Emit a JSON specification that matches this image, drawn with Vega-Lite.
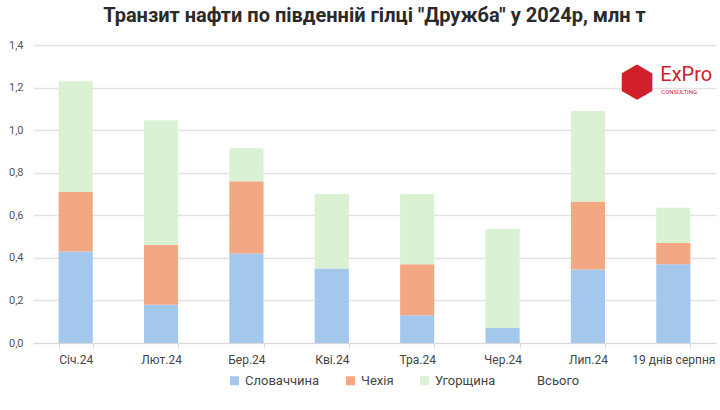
{
  "$schema": "https://vega.github.io/schema/vega-lite/v6.json",
  "width": 720,
  "height": 410,
  "autosize": {"type": "fit", "contains": "padding"},
  "padding": {"left": 8, "right": 4, "top": 6, "bottom": 45},
  "background": "white",
  "config": {
    "font": "Roboto",
    "view": {"stroke": null},
    "locale": {"number": {"decimal": ",", "thousands": " ", "grouping": [3], "currency": ["", ""]}}
  },
  "title": {
    "text": "Транзит нафти по південній гілці \"Дружба\" у 2024р, млн т",
    "fontSize": 20,
    "fontWeight": "bold",
    "color": "#2a2a2a",
    "font": "Roboto",
    "anchor": "middle",
    "offset": 13
  },
  "data": {
    "values": [
      {"month": "Січ.24", "country": "Словаччина", "value": 0.43, "o": 1},
      {"month": "Січ.24", "country": "Чехія", "value": 0.28, "o": 2},
      {"month": "Січ.24", "country": "Угорщина", "value": 0.52, "o": 3},
      {"month": "Лют.24", "country": "Словаччина", "value": 0.18, "o": 1},
      {"month": "Лют.24", "country": "Чехія", "value": 0.28, "o": 2},
      {"month": "Лют.24", "country": "Угорщина", "value": 0.585, "o": 3},
      {"month": "Бер.24", "country": "Словаччина", "value": 0.42, "o": 1},
      {"month": "Бер.24", "country": "Чехія", "value": 0.34, "o": 2},
      {"month": "Бер.24", "country": "Угорщина", "value": 0.155, "o": 3},
      {"month": "Кві.24", "country": "Словаччина", "value": 0.35, "o": 1},
      {"month": "Кві.24", "country": "Чехія", "value": 0.0, "o": 2},
      {"month": "Кві.24", "country": "Угорщина", "value": 0.35, "o": 3},
      {"month": "Тра.24", "country": "Словаччина", "value": 0.13, "o": 1},
      {"month": "Тра.24", "country": "Чехія", "value": 0.24, "o": 2},
      {"month": "Тра.24", "country": "Угорщина", "value": 0.33, "o": 3},
      {"month": "Чер.24", "country": "Словаччина", "value": 0.07, "o": 1},
      {"month": "Чер.24", "country": "Чехія", "value": 0.0, "o": 2},
      {"month": "Чер.24", "country": "Угорщина", "value": 0.465, "o": 3},
      {"month": "Лип.24", "country": "Словаччина", "value": 0.345, "o": 1},
      {"month": "Лип.24", "country": "Чехія", "value": 0.32, "o": 2},
      {"month": "Лип.24", "country": "Угорщина", "value": 0.425, "o": 3},
      {"month": "19 днів серпня", "country": "Словаччина", "value": 0.37, "o": 1},
      {"month": "19 днів серпня", "country": "Чехія", "value": 0.10, "o": 2},
      {"month": "19 днів серпня", "country": "Угорщина", "value": 0.165, "o": 3}
    ]
  },
  "layer": [
    {
      "mark": {"type": "bar"},
      "encoding": {
        "x": {
          "field": "month",
          "type": "nominal",
          "sort": null,
          "title": null,
          "scale": {"paddingInner": 0.6, "paddingOuter": 0.3},
          "axis": {
            "labelAngle": 0,
            "labelFontSize": 12,
            "labelColor": "#444444",
            "labelPadding": 6,
            "domainColor": "#d9d9d9",
            "tickColor": "#d9d9d9",
            "tickBand": "extent",
            "tickSize": 5,
            "grid": false
          }
        },
        "y": {
          "field": "value",
          "type": "quantitative",
          "stack": "zero",
          "title": null,
          "scale": {"domain": [0, 1.4]},
          "axis": {
            "values": [0, 0.2, 0.4, 0.6, 0.8, 1.0, 1.2, 1.4],
            "format": ".1f",
            "labelFontSize": 11,
            "labelColor": "#555555",
            "domain": false,
            "ticks": false,
            "labelPadding": 10,
            "gridColor": "#e3e3e3",
            "gridWidth": 1.5
          }
        },
        "color": {
          "field": "country",
          "type": "nominal",
          "title": null,
          "scale": {
            "domain": ["Словаччина", "Чехія", "Угорщина", "Всього"],
            "range": ["#a4c8ec", "#f2a883", "#daf1d3", "transparent"]
          },
          "legend": {
            "orient": "none",
            "legendX": 195,
            "legendY": 329,
            "direction": "horizontal",
            "symbolType": "square",
            "symbolSize": 80,
            "symbolStrokeWidth": 0,
            "labelFontSize": 13,
            "labelColor": "#444444",
            "columnPadding": 24
          }
        },
        "order": {"field": "o", "type": "quantitative"}
      }
    },
    {
      "data": {"values": [{"month": "19 днів серпня", "value": 1.26, "label": "ExPro"}]},
      "mark": {"type": "text", "color": "#d0202a", "fontSize": 20, "font": "Roboto", "fontWeight": "normal", "align": "left", "dx": -13},
      "encoding": {
        "x": {"field": "month", "type": "nominal", "sort": null},
        "y": {"field": "value", "type": "quantitative"},
        "text": {"field": "label"}
      }
    },
    {
      "data": {"values": [{"month": "19 днів серпня", "value": 1.22, "label": "⬢"}]},
      "mark": {"type": "text", "color": "#d0202a", "fontSize": 42, "font": "DejaVu Sans", "align": "right", "dx": -18},
      "encoding": {
        "x": {"field": "month", "type": "nominal", "sort": null},
        "y": {"field": "value", "type": "quantitative"},
        "text": {"field": "label"}
      }
    },
    {
      "data": {"values": [{"month": "19 днів серпня", "value": 1.18, "label": "CONSULTING"}]},
      "mark": {"type": "text", "color": "#d0202a", "fontSize": 6, "align": "left", "dx": -12},
      "encoding": {
        "x": {"field": "month", "type": "nominal", "sort": null},
        "y": {"field": "value", "type": "quantitative"},
        "text": {"field": "label"}
      }
    }
  ]
}
